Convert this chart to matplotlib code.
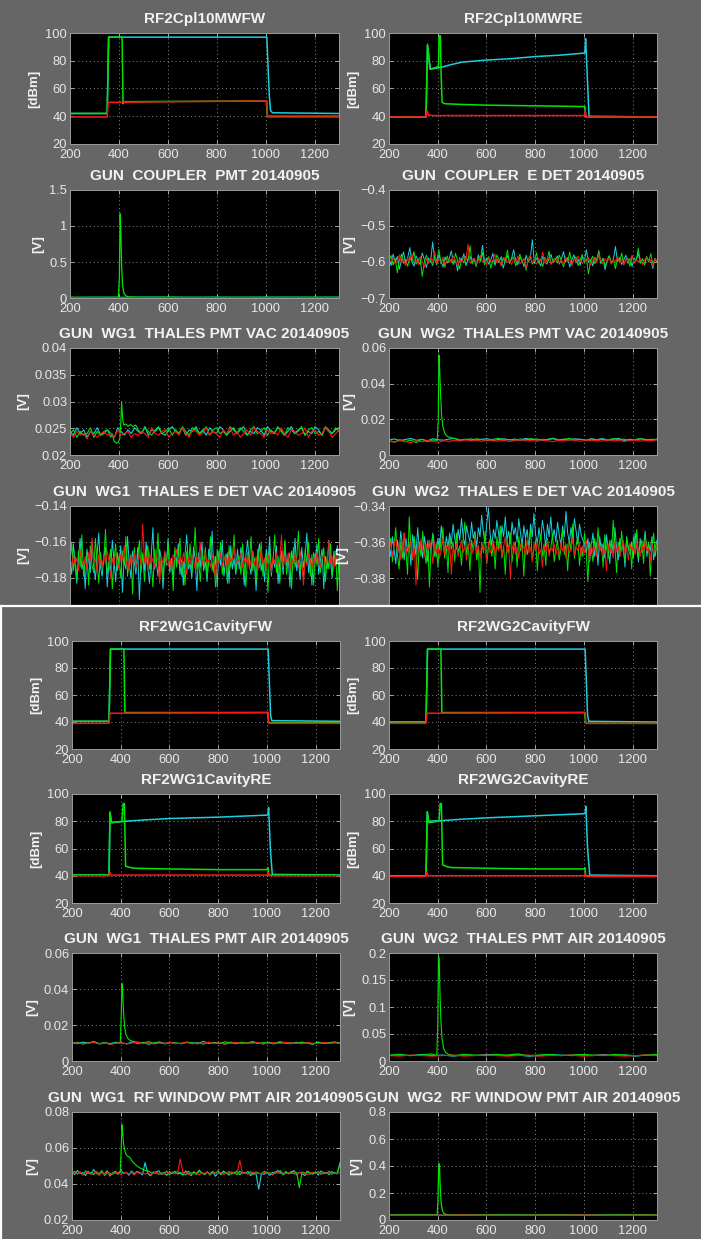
import numpy as np
import matplotlib
matplotlib.use('Agg')
import matplotlib.pyplot as plt
from matplotlib.lines import Line2D
from matplotlib.ticker import FuncFormatter

plt.rcParams['font.family'] = ['Liberation Sans', 'DejaVu Sans']

W, H = 701, 1239
BG = '#666666'
CYAN = '#1ccfe0'
GREEN = '#00e600'
RED = '#ff1414'

XTICKS = [200, 400, 600, 800, 1000, 1200]

# ---------------- top panel ----------------
# RF2Cpl10MWFW  (breakpoints, dBm)
fw_cyan_x = [200, 352, 358, 1005, 1010, 1015, 1020, 1028, 1300]
fw_cyan_y = [42, 42, 97, 97, 75, 55, 44, 42.5, 42]
fw_green_x = [200, 352, 358, 413, 417, 420, 1003, 1007, 1300]
fw_green_y = [42, 42, 97, 97, 49, 50.5, 51, 40, 40]
fw_red_x = [200, 352, 356, 600, 1005, 1008, 1300]
fw_red_y = [39.5, 39.5, 50, 50.5, 51, 39.5, 39.5]

# RF2Cpl10MWRE
re_cyan_x = [200, 352, 358, 370, 390, 420, 450, 500, 600, 700, 800, 900, 1000, 1004, 1007, 1014, 1021, 1300]
re_cyan_y = [39.5, 39.5, 91, 74, 74.5, 75.5, 77, 79, 80.5, 81.5, 83, 84, 85.5, 86, 96, 68, 40, 39.5]
re_green_x = [200, 352, 358, 368, 390, 403, 406, 411, 414, 418, 430, 500, 600, 800, 1000, 1004, 1008, 1300]
re_green_y = [39.5, 39.5, 92, 74, 75, 76, 98, 98, 70, 50, 49, 48.5, 48, 47.5, 47, 47, 39.5, 39.5]
re_red_x = [200, 352, 356, 362, 380, 1002, 1005, 1010, 1300]
re_red_y = [39.5, 39.5, 44, 41, 40.5, 40.5, 43.5, 39.5, 39.5]

# GUN COUPLER PMT (mV)
cpl_pmt_cyan = [8, 10, 9, 11, 10, 9, 10, 8, 11, 10, 9, 10]
cpl_pmt_green = [10, 9, 11, 10, 12, 9, 10, 11, 9, 10, 11, 10]
cpl_pmt_red = [4, 5, 3, 5, 4, 6, 4, 5, 3, 5, 4, 5]
cpl_pmt_spike_x = [398, 402, 405, 408, 411, 415, 420, 428, 440]
cpl_pmt_spike_y = [10, 300, 1170, 900, 450, 180, 70, 30, 15]

# GUN COUPLER E DET (mV)
cpl_edet_cyan = [-590, -610, -578, -601, -585, -620, -595, -572, -604, -588, -560, -598, -612, -583, -596, -607, -575, -593, -615, -589,
                 -600, -545, -592, -608, -580, -597, -614, -586, -603, -591, -569, -605, -594, -625, -588, -599, -577, -610, -593, -584,
                 -602, -591, -611, -580, -596, -554, -600, -589, -606, -594, -576, -609, -592, -601, -585, -617, -595, -582, -603, -590,
                 -566, -598, -607, -587, -595, -613, -581, -600, -592, -538, -604, -589, -597, -611, -584, -599, -606, -591, -579, -602,
                 -595, -583, -606, -591, -571, -600, -588, -614, -594, -580, -603, -592, -609, -586, -598, -566, -601, -593, -611, -587,
                 -597, -578, -605, -590, -621, -596, -584, -602, -593, -557, -599, -588, -607, -594, -581, -604, -591, -612, -589, -597,
                 -575, -603, -592, -608, -585, -600, -594, -618, -590, -598]
cpl_edet_green = [-597, -582, -609, -590, -630, -595, -578, -604, -592, -612, -585, -600, -571, -606, -593, -588, -640, -599, -581, -603,
                  -594, -610, -586, -598, -565, -605, -591, -614, -583, -600, -592, -607, -576, -596, -620, -589, -603, -584, -598, -555,
                  -605, -590, -612, -587, -599, -574, -608, -593, -585, -617, -596, -602, -580, -595, -609, -588, -600, -567, -604, -592,
                  -586, -611, -597, -578, -601, -590, -623, -594, -583, -606, -598, -575, -603, -592, -613, -587, -599, -570, -605, -594,
                  -590, -603, -581, -597, -614, -588, -600, -572, -606, -593, -586, -610, -595, -579, -602, -591, -633, -598, -584, -605,
                  -592, -568, -601, -589, -611, -596, -582, -604, -593, -619, -587, -599, -575, -607, -594, -590, -612, -583, -600, -596,
                  -562, -603, -591, -608, -585, -598, -577, -605, -593, -601]
cpl_edet_red = [-593, -600, -587, -605, -596, -580, -603, -592, -610, -589, -598, -576, -601, -594, -607, -585, -599, -615, -591, -603,
                -588, -597, -570, -604, -593, -600, -586, -608, -595, -590, -602, -583, -598, -612, -592, -601, -587, -596, -550, -604,
                -594, -589, -606, -597, -583, -600, -593, -609, -588, -599, -595, -578, -603, -591, -611, -596, -586, -602, -594, -607,
                -590, -599, -584, -605, -597, -592, -617, -595, -581, -601, -593, -606, -589, -598, -572, -603, -595, -588, -607, -596,
                -596, -589, -603, -593, -607, -586, -599, -594, -611, -590, -601, -583, -597, -605, -592, -599, -587, -608, -595, -590,
                -602, -579, -597, -604, -591, -600, -588, -606, -594, -598, -585, -603, -592, -609, -589, -599, -596, -582, -604, -593,
                -600, -590, -607, -595, -586, -601, -594, -612, -591, -598]

# GUN WG1 THALES PMT VAC (1e-4 V)
wg1_vac_cyan = [244, 237, 251, 240, 247, 233, 244, 240, 251, 237, 244, 247, 240, 233, 251, 244, 237, 247, 240, 251,
                244, 240, 253, 237, 247, 244, 251, 240, 237, 247, 253, 244, 240, 251, 237, 247, 244, 253, 240, 247,
                237, 251, 244, 240, 253, 247, 237, 244, 251, 240, 247, 253, 237, 244, 240, 251, 247, 237, 253, 244,
                240, 251, 247, 237, 244, 253, 240, 247, 251, 237, 244, 240, 253, 247, 237, 251, 244, 240, 247, 251]
wg1_vac_green = [240, 247, 233, 244, 237, 240, 251, 233, 244, 237, 240, 247, 233, 240, 244, 237, 251, 240, 233, 244,
                 247, 240, 251, 244, 237, 247, 253, 240, 244, 251, 237, 247, 240, 253, 244, 237, 251, 247, 240, 244,
                 253, 237, 247, 251, 240, 244, 237, 253, 247, 240, 251, 244, 237, 247, 253, 240, 244, 251, 237, 247,
                 240, 253, 244, 237, 251, 247, 240, 244, 253, 237, 247, 251, 240, 244, 237, 253, 247, 240, 251, 244]
wg1_vac_red = [240, 233, 244, 237, 240, 230, 244, 237, 233, 240, 244, 237, 240, 233, 247, 237, 240, 244, 233, 240,
               237, 244, 240, 233, 251, 240, 237, 244, 247, 233, 240, 244, 237, 251, 240, 233, 247, 244, 237, 240,
               251, 237, 244, 240, 233, 247, 240, 251, 237, 244, 233, 240, 247, 237, 251, 244, 240, 233, 247, 240,
               244, 237, 251, 240, 233, 247, 244, 237, 240, 251, 233, 244, 247, 237, 240, 251, 244, 233, 240, 247]
wg1_vac_spike_x = [372, 380, 390, 398, 404, 408, 411, 415, 420, 428, 438, 448, 458, 468, 478]
wg1_vac_spike_y = [240, 226, 222, 224, 232, 262, 300, 268, 256, 258, 254, 257, 253, 256, 249]

# GUN WG2 THALES PMT VAC (1e-4 V)
wg2_vac_cyan = [84, 90, 80, 87, 93, 82, 88, 79, 91, 85, 83, 89, 94, 81, 86, 90, 84, 88, 92, 80,
                87, 91, 85, 89, 83, 93, 86, 90, 82, 88, 94, 85, 89, 84, 91, 87, 83, 90, 86, 92,
                84, 89, 93, 81, 88, 85, 91, 87, 83, 90]
wg2_vac_green = [80, 72, 86, 76, 83, 70, 88, 75, 84, 73, 90, 85, 92, 84, 89, 82, 91, 86, 80, 88,
                 93, 84, 87, 81, 90, 85, 92, 83, 88, 86, 91, 82, 87, 93, 84, 89, 81, 90, 86, 88,
                 83, 92, 85, 89, 80, 87, 91, 84, 88, 86]
wg2_vac_red = [78, 72, 81, 75, 70, 79, 74, 82, 76, 71, 80, 76, 83, 78, 85, 79, 82, 77, 84, 80,
               78, 83, 76, 81, 86, 79, 82, 77, 84, 80, 75, 83, 79, 86, 81, 77, 84, 80, 82, 78,
               85, 79, 83, 76, 81, 84, 78, 82, 80, 85]
wg2_vac_spike_x = [398, 402, 405, 408, 412, 416, 421, 428, 436, 446, 460, 475]
wg2_vac_spike_y = [82, 200, 560, 480, 330, 220, 160, 125, 108, 100, 95, 90]

# GUN WG1 THALES E DET VAC (mV)
wg1_edet_cyan = [-166, -178, -161, -172, -183, -169, -158, -175, -171, -186, -164, -170, -177, -160, -173, -181, -167, -155, -174, -179,
                 -168, -163, -185, -171, -176, -159, -170, -182, -166, -173, -162, -188, -169, -175, -157, -172, -180, -165, -171, -178,
                 -163, -192, -170, -167, -176, -160, -174, -183, -168, -152, -175, -171, -179, -164, -170, -186, -166, -173, -158, -177,
                 -169, -181, -165, -172, -161, -178, -170, -184, -167, -156, -175, -172, -180, -163, -169, -187, -166, -174, -160, -176,
                 -171, -182, -164, -170, -154, -177, -168, -185, -165, -173, -159, -179, -170, -166, -183, -162, -175, -169, -178, -164,
                 -175, -163, -170, -184, -167, -159, -173, -178, -165, -171, -187, -168, -161, -176, -170, -182, -164, -172, -157, -179,
                 -169, -174, -162, -183, -171, -166, -178, -160, -173, -168, -185, -165, -172, -158, -176, -170, -181, -163, -174, -167,
                 -155, -177, -169, -184, -166, -172, -161, -178, -170, -164, -186, -168, -175, -159, -171, -180, -165, -173, -162, -177]
wg1_edet_green = [-172, -160, -176, -168, -181, -165, -174, -156, -179, -170, -167, -184, -162, -173, -177, -158, -171, -183, -166, -175,
                  -169, -153, -178, -172, -164, -186, -170, -161, -176, -168, -180, -165, -173, -157, -179, -171, -167, -189, -163, -174,
                  -170, -159, -177, -166, -182, -169, -162, -175, -171, -185, -164, -173, -155, -178, -168, -181, -166, -172, -160, -176,
                  -170, -187, -163, -174, -167, -158, -179, -171, -184, -165, -173, -161, -177, -169, -152, -175, -170, -182, -166, -174,
                  -163, -180, -171, -157, -176, -168, -185, -164, -172, -160, -178, -170, -167, -183, -162, -174, -169, -156, -177, -171,
                  -168, -178, -161, -173, -185, -166, -171, -157, -176, -169, -182, -164, -174, -160, -179, -170, -167, -188, -162, -175,
                  -171, -156, -177, -168, -183, -165, -173, -159, -178, -170, -166, -186, -163, -174, -169, -154, -176, -171, -181, -164,
                  -172, -160, -179, -167, -184, -166, -173, -158, -177, -170, -163, -182, -168, -175, -161, -178, -171, -165, -187, -169]
wg1_edet_red = [-170, -174, -167, -172, -169, -176, -165, -171, -173, -168, -175, -166, -170, -158, -172, -169, -177, -167, -171, -174,
                -168, -172, -165, -170, -180, -169, -173, -166, -171, -175, -167, -170, -162, -173, -169, -176, -168, -171, -166, -174,
                -170, -167, -173, -150, -171, -168, -175, -166, -172, -169, -174, -167, -170, -183, -168, -172, -165, -171, -173, -169,
                -176, -167, -170, -164, -172, -168, -174, -166, -171, -178, -169, -172, -167, -170, -175, -168, -171, -160, -173, -169,
                -166, -172, -170, -174, -167, -171, -181, -169, -172, -166, -173, -170, -168, -175, -167, -171, -169, -163, -172, -170,
                -171, -166, -174, -169, -172, -167, -175, -170, -165, -173, -168, -176, -171, -164, -172, -169, -174, -167, -170, -177,
                -168, -172, -166, -173, -170, -156, -174, -168, -171, -166, -175, -169, -172, -167, -170, -174, -165, -171, -184, -169,
                -173, -167, -170, -175, -168, -172, -166, -171, -174, -169, -167, -173, -170, -159, -172, -168, -175, -166, -171, -170]

# GUN WG2 THALES E DET VAC (mV)
wg2_edet_cyan = [-361, -368, -357, -364, -372, -359, -366, -354, -363, -370, -358, -365, -361, -373, -356, -362, -367, -352, -364, -360,
                 -369, -357, -363, -371, -359, -366, -355, -362, -368, -358, -364, -351, -360, -367, -357, -363,
                 -355, -361, -350, -358, -364, -353, -359, -347, -357, -362, -351, -356, -360, -349, -358, -354, -363, -352, -357, -345,
                 -355, -361, -350, -341, -356, -362, -353, -358, -348, -355, -363, -351, -357, -346, -359, -354, -361, -349, -356, -352,
                 -360, -347, -355, -362, -351, -358, -353, -364, -350, -357, -344, -356, -361, -352, -359, -348, -354, -363, -350, -357,
                 -346, -358, -353, -360, -349, -356, -362, -351, -357, -343, -355, -360, -352, -358, -347, -354, -361, -350, -356, -359,
                 -361, -366, -358, -371, -362, -355, -368, -360, -373, -357, -365, -361, -369, -356, -364, -372, -359, -366, -352, -363,
                 -370, -358, -365, -361, -374, -357, -364, -367, -360, -369, -355, -363, -371, -358, -366, -362, -354, -368, -361, -365,
                 -357, -370, -363, -359]
wg2_edet_green = [-366, -358, -371, -362, -352, -367, -375, -360, -369, -355, -364, -378, -346, -363, -370, -357, -366, -381, -360, -368,
                  -354, -365, -372, -359, -385, -362, -356, -368, -361, -374, -358, -365, -352, -369, -362, -377, -357, -364, -360, -371,
                  -355, -366, -362, -373, -358, -349, -367, -361, -376, -359, -365, -356, -370, -362, -388, -360, -366, -354, -372, -363,
                  -358, -368, -361, -375, -357, -364, -351, -369, -362, -378, -359, -366, -355, -371, -363, -360, -374, -357, -365, -361,
                  -379, -358, -367, -362, -353, -370, -364, -359, -376, -362, -356, -368, -361, -373, -358, -366, -363, -356, -371, -364,
                  -359, -370, -364, -353, -367, -361, -376, -358, -365, -350, -369, -362, -357, -373, -363, -368, -355, -366, -382, -360,
                  -364, -371, -358, -367, -352, -365, -361, -374, -356, -363, -369, -359, -366, -348, -362, -377, -360, -368, -354, -365,
                  -371, -358, -364, -361, -375, -357, -366, -353, -369, -362, -359, -372, -356, -365, -360, -379, -363, -355, -368, -361]
wg2_edet_red = [-364, -360, -368, -362, -357, -366, -361, -370, -363, -355, -367, -362, -365, -359, -369, -363, -384, -361, -366, -358,
                -364, -368, -361, -365, -359, -363, -372, -360, -366, -362, -369, -364, -358, -367, -362, -365, -360, -378, -363, -366,
                -361, -368, -364, -359, -366, -362, -370, -363, -360, -367, -364, -358, -366, -362, -369, -361, -365, -363, -371, -360,
                -366, -364, -359, -367, -362, -365, -361, -368, -363, -357, -366, -362, -380, -364, -360, -367, -363, -369, -361, -365,
                -362, -368, -359, -366, -363, -371, -361, -365, -360, -367, -364, -374, -362, -366, -359, -368, -363, -365, -361, -367,
                -363, -367, -360, -365, -362, -369, -361, -366, -364, -358, -367, -363, -365, -360, -368, -362, -366, -359, -364, -370,
                -361, -366, -363, -368, -360, -365, -362, -367, -364, -376, -361, -366, -363, -369, -360, -365, -362, -368, -364, -359,
                -366, -363, -370, -361, -365, -362, -367, -360, -364, -368, -362, -366, -359, -365, -363, -371, -361, -366, -364, -362]

# ---------------- bottom panel ----------------
# RF2WG1CavityFW
c1fw_cyan_x = [200, 352, 358, 1005, 1010, 1015, 1020, 1300]
c1fw_cyan_y = [40.5, 40.5, 94, 94, 70, 45, 41, 40.5]
c1fw_green_x = [200, 352, 358, 413, 417, 1003, 1007, 1300]
c1fw_green_y = [40.5, 40.5, 94, 94, 47, 47, 39.5, 39.5]
c1fw_red_x = [200, 352, 356, 1005, 1008, 1300]
c1fw_red_y = [39, 39, 46.5, 47, 39, 39]

# RF2WG2CavityFW
c2fw_cyan_x = [200, 352, 358, 1005, 1010, 1015, 1020, 1300]
c2fw_cyan_y = [40, 40, 94, 94, 70, 45, 40.5, 40]
c2fw_green_x = [200, 352, 358, 413, 417, 1003, 1007, 1300]
c2fw_green_y = [40, 40, 94, 94, 47, 47, 39, 39]
c2fw_red_x = [200, 352, 356, 1005, 1008, 1300]
c2fw_red_y = [39, 39, 46.5, 47, 39, 39]

# RF2WG1CavityRE
c1re_cyan_x = [200, 352, 356, 362, 420, 500, 600, 800, 1000, 1004, 1007, 1014, 1022, 1300]
c1re_cyan_y = [40.5, 40.5, 86, 79, 80, 81, 82, 83, 84.5, 85, 90, 60, 41, 40.5]
c1re_green_x = [200, 352, 356, 362, 405, 410, 415, 420, 440, 460, 600, 800, 1000, 1004, 1008, 1300]
c1re_green_y = [40.5, 40.5, 87, 79, 80, 93, 93, 47, 46, 45.5, 45, 44.5, 44.5, 46, 40.5, 40.5]
c1re_red_x = [200, 352, 355, 360, 1002, 1005, 1009, 1300]
c1re_red_y = [40, 40, 43, 40.5, 40.5, 42.5, 40, 40]

# RF2WG2CavityRE
c2re_cyan_x = [200, 352, 357, 363, 420, 500, 600, 800, 1000, 1005, 1008, 1015, 1024, 1300]
c2re_cyan_y = [40, 40, 87, 80, 80.5, 81.5, 82.5, 84, 85.5, 86, 91, 60, 40.5, 40]
c2re_green_x = [200, 352, 357, 363, 405, 410, 415, 420, 440, 460, 600, 800, 1000, 1004, 1008, 1300]
c2re_green_y = [40, 40, 87, 79, 80, 93, 93, 48, 46.5, 46, 45.5, 45, 45, 46, 40, 40]
c2re_red_x = [200, 352, 355, 360, 1002, 1005, 1009, 1300]
c2re_red_y = [39.5, 39.5, 42.5, 40, 40, 42, 39.5, 39.5]

# GUN WG1 THALES PMT AIR (1e-4 V)
wg1_air_cyan = [102, 96, 105, 99, 108, 94, 101, 97, 104, 100, 95, 107, 98, 103, 93, 100, 106, 97, 102, 99,
                96, 104, 101, 95, 109, 98, 103, 100, 94, 105, 99, 102, 97, 106, 100, 95, 103, 98, 107, 101,
                96, 104, 99, 102, 94, 105, 100, 97, 103, 99]
wg1_air_green = [98, 104, 95, 101, 106, 97, 103, 92, 100, 105, 99, 96, 104, 101, 107, 98, 102, 95, 103, 100,
                 97, 105, 99, 102, 94, 104, 100, 98, 106, 101, 96, 103, 99, 108, 97, 102, 100, 95, 104, 99,
                 101, 97, 105, 100, 93, 103, 98, 102, 106, 100]
wg1_air_red = [97, 101, 94, 99, 103, 96, 100, 93, 98, 102, 95, 99, 104, 97, 101, 94, 100, 98, 103, 96,
               99, 102, 95, 100, 97, 104, 98, 101, 94, 99, 103, 96, 100, 98, 102, 95, 99, 101, 97, 104,
               98, 100, 95, 102, 99, 96, 103, 98, 101, 97]
wg1_air_spike_x = [398, 402, 405, 408, 412, 416, 421, 428, 438, 450]
wg1_air_spike_y = [100, 250, 430, 380, 260, 190, 150, 128, 115, 108]

# GUN WG2 THALES PMT AIR (1e-3 V)
wg2_air_cyan = [10, 11, 10, 12, 10, 11, 9, 11, 10, 12, 11, 10, 11, 9, 10, 12, 11, 10, 11, 10, 12, 10, 11, 9, 11, 10]
wg2_air_green = [11, 12, 10, 11, 13, 11, 10, 12, 11, 10, 12, 11, 13, 10, 11, 12, 10, 11, 12, 11, 10, 12, 11, 10, 11, 12]
wg2_air_red = [10, 9, 11, 10, 9, 10, 11, 9, 10, 11, 10, 9, 10, 11, 9, 10, 10, 11, 9, 10, 11, 10, 9, 10, 11, 10]
wg2_air_spike_x = [396, 400, 403, 406, 409, 413, 418, 424, 432, 445, 460]
wg2_air_spike_y = [10, 60, 195, 190, 130, 75, 40, 24, 16, 12, 11]

# GUN WG1 RF WINDOW PMT AIR (1e-4 V)
wg1_win_cyan = [468, 452, 475, 458, 463, 447, 471, 455, 480, 461, 450, 466, 457, 473, 444, 462, 469, 454, 476, 459,
                465, 449, 472, 456, 470, 463, 451, 519, 458, 445, 467, 460, 474, 453, 462, 448, 469, 457, 471, 455,
                464, 450, 473, 459, 446, 468, 456, 477, 461, 452, 466, 458, 470, 443, 463, 455, 472, 460, 449, 467,
                457, 474, 451, 465, 459, 470, 446, 462, 455, 371, 460, 453, 467, 448, 464, 458, 476, 463, 452, 469,
                456, 462, 475, 450, 466, 458, 447, 470, 461, 455, 468, 449, 473, 457, 463, 452, 469, 460, 456, 518]
wg1_win_green = [462, 470, 455, 467, 449, 473, 458, 464, 452, 469, 457, 475, 447, 463, 460, 454, 471, 458, 466, 450,
                 468, 456, 473, 461, 452, 467, 459, 474, 448, 465, 457, 470, 453, 463, 460, 472, 451, 466, 458, 469,
                 455, 464, 450, 471, 459, 466, 453, 473, 461, 456, 468, 449, 465, 460, 474, 452, 463, 458, 470, 455,
                 466, 451, 472, 459, 464, 456, 469, 453, 467, 460, 455, 471, 458, 463, 450, 468, 461, 474, 452, 466,
                 459, 470, 456, 464, 380, 467, 459, 472, 454, 465, 460, 469, 453, 466, 458, 471, 455, 463, 460, 512]
wg1_win_red = [458, 463, 455, 466, 452, 461, 468, 454, 460, 471, 449, 463, 457, 465, 451, 462, 458, 466, 453, 460,
               464, 456, 462, 450, 467, 458, 461, 455, 464, 452, 460, 466, 457, 462, 454, 468, 459, 461, 456, 463,
               540, 458, 465, 453, 461, 457, 464, 451, 462, 459, 466, 455, 460, 463, 457, 465, 452, 461, 458, 464,
               456, 462, 530, 457, 463, 454, 460, 466, 458, 461, 455, 464, 459, 462, 453, 460, 465, 457, 462, 456,
               463, 458, 461, 455, 464, 459, 462, 452, 460, 465, 457, 461, 454, 463, 459, 462, 456, 460, 458, 463]
wg1_win_spike_x = [398, 402, 405, 408, 412, 416, 420, 425, 430, 437, 445, 455, 467, 480, 500, 520]
wg1_win_spike_y = [465, 600, 730, 680, 620, 590, 570, 558, 553, 548, 530, 515, 500, 488, 476, 468]

# GUN WG2 RF WINDOW PMT AIR (1e-3 V)
wg2_win_cyan = [36, 37, 36, 35, 37, 36, 36, 37, 35, 36, 37, 36]
wg2_win_green = [37, 38, 37, 36, 38, 37, 37, 38, 36, 37, 38, 37]
wg2_win_red = [35, 34, 35, 36, 35, 34, 35, 35, 36, 34, 35, 35]
wg2_win_spike_x = [398, 401, 404, 407, 410, 414, 419, 426, 435, 450]
wg2_win_spike_y = [37, 150, 420, 400, 260, 130, 70, 48, 41, 38]


def fmt(v, pos):
    s = '%g' % v
    return s.replace('-', '\u2212')


def make_ax(fig, x0, x1, ytop, ybot):
    return fig.add_axes([x0 / W, 1 - ybot / H, (x1 - x0) / W, (ybot - ytop) / H])


def style(ax, title, ylabel, ylim, yticks, cut=False):
    ax.set_facecolor('black')
    ax.set_xlim(200, 1300)
    ax.set_ylim(*ylim)
    ax.set_xticks(XTICKS)
    ax.set_yticks(yticks)
    ax.yaxis.set_major_formatter(FuncFormatter(fmt))
    ax.grid(True, color='#8a8a8a', linestyle=(0, (1, 3)), linewidth=0.7)
    ax.set_axisbelow(True)
    ax.tick_params(colors='#bdbdbd', labelcolor='#e8e8e8', labelsize=9.3,
                   direction='in', length=3, width=0.6, top=True, right=True)
    ax.tick_params(axis='x', pad=3.5)
    ax.tick_params(axis='y', pad=2)
    for sp in ax.spines.values():
        sp.set_color('#9a9a9a')
        sp.set_linewidth(0.7)
    ax.set_title(title, color='#f2f2f2', fontsize=11, fontweight='bold', pad=7)
    ax.set_ylabel(ylabel, color='#f2f2f2', fontsize=9.5, fontweight='bold', labelpad=4)
    if cut:
        ax.spines['bottom'].set_visible(False)
        ax.tick_params(axis='x', bottom=False, labelbottom=False)


def noisy(vals, scale):
    x = np.linspace(200, 1300, len(vals))
    return x, np.array(vals) * scale


def with_spike(vals, scale, sx, sy):
    x, y = noisy(vals, scale)
    keep = (x < sx[0]) | (x > sx[-1])
    xx = np.concatenate([x[keep], np.array(sx, float)])
    yy = np.concatenate([y[keep], np.array(sy) * scale])
    order = np.argsort(xx)
    return xx[order], yy[order]


def three(ax, c, g, r, lw=0.9):
    ax.plot(*c, color=CYAN, lw=lw)
    ax.plot(*g, color=GREEN, lw=lw)
    ax.plot(*r, color=RED, lw=lw)


fig = plt.figure(figsize=(W / 100, H / 100), dpi=100)
fig.patch.set_facecolor(BG)

dbm_ticks = [20, 40, 60, 80, 100]
L = (70, 339)
R = (389, 657)
LB = (72, 340)

# top panel
ax = make_ax(fig, *L, 33, 144)
style(ax, 'RF2Cpl10MWFW', '[dBm]', (20, 100), dbm_ticks)
three(ax, (fw_cyan_x, fw_cyan_y), (fw_green_x, fw_green_y), (fw_red_x, fw_red_y), lw=1.1)

ax = make_ax(fig, *R, 33, 144)
style(ax, 'RF2Cpl10MWRE', '[dBm]', (20, 100), dbm_ticks)
three(ax, (re_cyan_x, re_cyan_y), (re_green_x, re_green_y), (re_red_x, re_red_y), lw=1.1)

ax = make_ax(fig, *L, 190, 298)
style(ax, 'GUN  COUPLER  PMT 20140905', '[V]', (0, 1.5), [0, 0.5, 1, 1.5])
three(ax, noisy(cpl_pmt_cyan, 1e-3),
      with_spike(cpl_pmt_green, 1e-3, cpl_pmt_spike_x, cpl_pmt_spike_y),
      noisy(cpl_pmt_red, 1e-3))

ax = make_ax(fig, *R, 190, 298)
style(ax, 'GUN  COUPLER  E DET 20140905', '[V]', (-0.7, -0.4), [-0.7, -0.6, -0.5, -0.4])
three(ax, noisy(cpl_edet_cyan, 1e-3), noisy(cpl_edet_green, 1e-3), noisy(cpl_edet_red, 1e-3), lw=0.7)

ax = make_ax(fig, *L, 348, 455)
style(ax, 'GUN  WG1  THALES PMT VAC 20140905', '[V]', (0.02, 0.04), [0.02, 0.025, 0.03, 0.035, 0.04])
three(ax, noisy(wg1_vac_cyan, 1e-4),
      with_spike(wg1_vac_green, 1e-4, wg1_vac_spike_x, wg1_vac_spike_y),
      noisy(wg1_vac_red, 1e-4), lw=0.8)

ax = make_ax(fig, *R, 348, 455)
style(ax, 'GUN  WG2  THALES PMT VAC 20140905', '[V]', (0, 0.06), [0, 0.02, 0.04, 0.06])
three(ax, noisy(wg2_vac_cyan, 1e-4),
      with_spike(wg2_vac_green, 1e-4, wg2_vac_spike_x, wg2_vac_spike_y),
      noisy(wg2_vac_red, 1e-4), lw=0.8)

ax = make_ax(fig, *L, 506, 605)
style(ax, 'GUN  WG1  THALES E DET VAC 20140905', '[V]', (-0.195, -0.14), [-0.18, -0.16, -0.14], cut=True)
three(ax, noisy(wg1_edet_cyan, 1e-3), noisy(wg1_edet_green, 1e-3), noisy(wg1_edet_red, 1e-3), lw=0.7)

ax = make_ax(fig, *R, 506, 605)
style(ax, 'GUN  WG2  THALES E DET VAC 20140905', '[V]', (-0.395, -0.34), [-0.38, -0.36, -0.34], cut=True)
three(ax, noisy(wg2_edet_cyan, 1e-3), noisy(wg2_edet_green, 1e-3), noisy(wg2_edet_red, 1e-3), lw=0.7)

# bottom panel
ax = make_ax(fig, *LB, 641, 749)
style(ax, 'RF2WG1CavityFW', '[dBm]', (20, 100), dbm_ticks)
three(ax, (c1fw_cyan_x, c1fw_cyan_y), (c1fw_green_x, c1fw_green_y), (c1fw_red_x, c1fw_red_y), lw=1.1)

ax = make_ax(fig, *R, 641, 749)
style(ax, 'RF2WG2CavityFW', '[dBm]', (20, 100), dbm_ticks)
three(ax, (c2fw_cyan_x, c2fw_cyan_y), (c2fw_green_x, c2fw_green_y), (c2fw_red_x, c2fw_red_y), lw=1.1)

ax = make_ax(fig, *LB, 794, 903)
style(ax, 'RF2WG1CavityRE', '[dBm]', (20, 100), dbm_ticks)
three(ax, (c1re_cyan_x, c1re_cyan_y), (c1re_green_x, c1re_green_y), (c1re_red_x, c1re_red_y), lw=1.1)

ax = make_ax(fig, *R, 794, 903)
style(ax, 'RF2WG2CavityRE', '[dBm]', (20, 100), dbm_ticks)
three(ax, (c2re_cyan_x, c2re_cyan_y), (c2re_green_x, c2re_green_y), (c2re_red_x, c2re_red_y), lw=1.1)

ax = make_ax(fig, *LB, 953, 1061)
style(ax, 'GUN  WG1  THALES PMT AIR 20140905', '[V]', (0, 0.06), [0, 0.02, 0.04, 0.06])
three(ax, noisy(wg1_air_cyan, 1e-4),
      with_spike(wg1_air_green, 1e-4, wg1_air_spike_x, wg1_air_spike_y),
      noisy(wg1_air_red, 1e-4), lw=0.8)

ax = make_ax(fig, *R, 953, 1061)
style(ax, 'GUN  WG2  THALES PMT AIR 20140905', '[V]', (0, 0.2), [0, 0.05, 0.1, 0.15, 0.2])
three(ax, noisy(wg2_air_cyan, 1e-3),
      with_spike(wg2_air_green, 1e-3, wg2_air_spike_x, wg2_air_spike_y),
      noisy(wg2_air_red, 1e-3), lw=0.8)

ax = make_ax(fig, *LB, 1112, 1220)
style(ax, 'GUN  WG1  RF WINDOW PMT AIR 20140905', '[V]', (0.02, 0.08), [0.02, 0.04, 0.06, 0.08])
three(ax, noisy(wg1_win_cyan, 1e-4),
      with_spike(wg1_win_green, 1e-4, wg1_win_spike_x, wg1_win_spike_y),
      noisy(wg1_win_red, 1e-4), lw=0.8)

ax = make_ax(fig, *R, 1112, 1220)
style(ax, 'GUN  WG2  RF WINDOW PMT AIR 20140905', '[V]', (0, 0.8), [0, 0.2, 0.4, 0.6, 0.8])
three(ax, noisy(wg2_win_cyan, 1e-3),
      with_spike(wg2_win_green, 1e-3, wg2_win_spike_x, wg2_win_spike_y),
      noisy(wg2_win_red, 1e-3), lw=0.9)

# white frame between the two screenshots
ysep = 1 - 606 / H
fig.add_artist(Line2D([0, 1], [ysep, ysep], color='white', lw=1.6, transform=fig.transFigure))
fig.add_artist(Line2D([0.0012, 0.0012], [0, ysep], color='white', lw=1.6, transform=fig.transFigure))

fig.savefig('out.png', dpi=100, facecolor=BG)
